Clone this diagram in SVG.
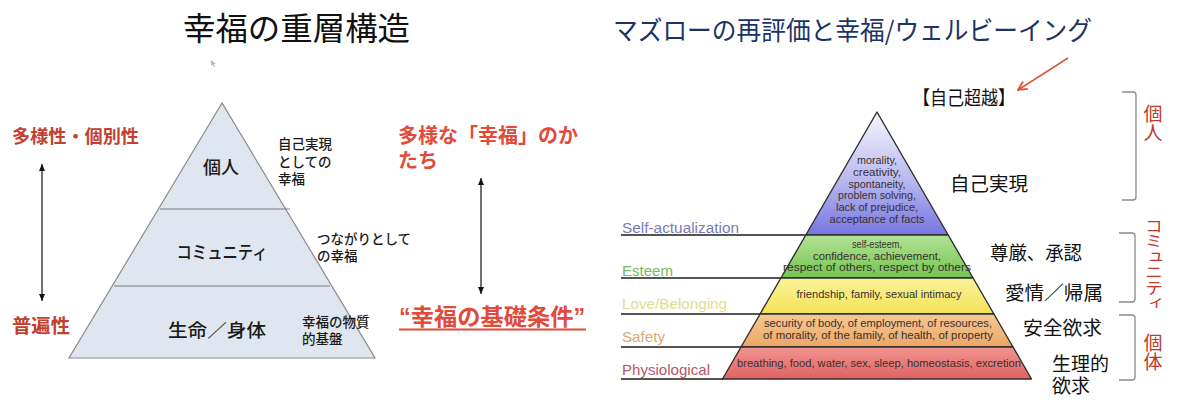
<svg xmlns="http://www.w3.org/2000/svg" width="1180" height="420" viewBox="0 0 1180 420">
<defs>
  <style>
    .jp { font-family: "Noto Sans CJK JP", sans-serif; }
    .ttl { font-family: "Noto Sans CJK JP", sans-serif; font-size: 32px; fill: #111; }
    .lbl { font-family: "Noto Sans CJK JP", sans-serif; font-size: 18px; font-weight: 500; fill: #1a1a1a; text-anchor: middle; }
    .ann { font-family: "Noto Sans CJK JP", sans-serif; font-size: 13.5px; font-weight: 500; fill: #1a1a1a; }
    .red { font-family: "Noto Sans CJK JP", sans-serif; font-weight: 700; fill: #c2402f; }
    .red2 { font-family: "Liberation Sans", "Noto Sans CJK JP", sans-serif; font-weight: 700; fill: #e24a3b; }
    .rl { font-family: "Noto Sans CJK JP", sans-serif; font-size: 19px; fill: #111; }
    .vt { font-family: "Noto Sans CJK JP", sans-serif; fill: #c0392b; writing-mode: vertical-rl; }
    .mz { font-family: "Liberation Sans", "DejaVu Sans", sans-serif; font-size: 10px; fill: #3a3030; text-anchor: middle; }
    .ml { font-family: "Liberation Sans", "DejaVu Sans", sans-serif; font-size: 15.5px; }
    .pyr { fill: #dfe6f0; stroke: #8a8a8a; stroke-width: 1.2; }
    .div { stroke: #7d7d7d; stroke-width: 1.1; }
    .arr { stroke: #111; stroke-width: 1.2; fill: none; marker-start: url(#ahs); marker-end: url(#ahe); }
    .hl { stroke: #555; stroke-width: 1.8; }
    .lay { stroke: #2e2e2e; stroke-width: 1.4; stroke-linejoin: round; }
    .brk { fill: none; stroke: #8a8a8a; stroke-width: 1.3; }
  </style>
  <marker id="ahe" viewBox="0 0 8 8" refX="7" refY="4" markerWidth="8" markerHeight="8" markerUnits="userSpaceOnUse" orient="auto">
    <path d="M0,1 L7,4 L0,7 Z" fill="#111"/>
  </marker>
  <marker id="ahs" viewBox="0 0 8 8" refX="1" refY="4" markerWidth="8" markerHeight="8" markerUnits="userSpaceOnUse" orient="auto">
    <path d="M8,1 L1,4 L8,7 Z" fill="#111"/>
  </marker>
  <marker id="ahr" viewBox="0 0 10 10" refX="9" refY="5" markerWidth="11" markerHeight="11" markerUnits="userSpaceOnUse" orient="auto">
    <path d="M1,1 L9,5 L1,9" fill="none" stroke="#e2503c" stroke-width="1.6"/>
  </marker>
  <linearGradient id="gTop" gradientUnits="userSpaceOnUse" x1="0" y1="112" x2="0" y2="235">
    <stop offset="0" stop-color="#f6f6fc"/>
    <stop offset="0.55" stop-color="#b9b9ef"/>
    <stop offset="1" stop-color="#7676e0"/>
  </linearGradient>
  <linearGradient id="gEst" gradientUnits="userSpaceOnUse" x1="0" y1="235" x2="0" y2="278">
    <stop offset="0" stop-color="#b2e396"/>
    <stop offset="1" stop-color="#74c451"/>
  </linearGradient>
  <linearGradient id="gLov" gradientUnits="userSpaceOnUse" x1="0" y1="278" x2="0" y2="314">
    <stop offset="0" stop-color="#faf29a"/>
    <stop offset="1" stop-color="#f3e356"/>
  </linearGradient>
  <linearGradient id="gSaf" gradientUnits="userSpaceOnUse" x1="0" y1="314" x2="0" y2="347">
    <stop offset="0" stop-color="#f5c996"/>
    <stop offset="1" stop-color="#eca664"/>
  </linearGradient>
  <linearGradient id="gPhy" gradientUnits="userSpaceOnUse" x1="0" y1="347" x2="0" y2="379">
    <stop offset="0" stop-color="#f09590"/>
    <stop offset="1" stop-color="#e06262"/>
  </linearGradient>
</defs>
<rect width="1180" height="420" fill="#ffffff"/>

<!-- Left diagram -->
<g id="left-title">
  <text class="ttl" x="183" y="40" textLength="227" lengthAdjust="spacingAndGlyphs">幸福の重層構造</text>
  <path d="M211,60 L211,66 L212.5,64.5 L214,67 L215,66.5 L213.8,64 L216,64 Z" fill="#bbb"/>
</g>

<g id="left-pyramid">
  <polygon class="pyr" points="222,103 69,358 375,358"/>
  <line class="div" x1="160" y1="209" x2="290" y2="209"/>
  <line class="div" x1="114" y1="286" x2="330" y2="286"/>
</g>

<g id="node-kojin">
  <text class="lbl" x="221" y="174">個人</text>
  <text class="ann" x="278" y="149">自己実現</text>
  <text class="ann" x="278" y="167">としての</text>
  <text class="ann" x="278" y="184">幸福</text>
</g>
<g id="node-community">
  <text class="lbl" x="222" y="259" font-size="15" textLength="91" lengthAdjust="spacingAndGlyphs">コミュニティ</text>
  <text class="ann" x="317" y="244" font-size="13">つながりとして</text>
  <text class="ann" x="317" y="261" font-size="13">の幸福</text>
</g>
<g id="node-seimei">
  <text class="lbl" x="217" y="337" textLength="98" lengthAdjust="spacingAndGlyphs">生命／身体</text>
  <text class="ann" x="302" y="327" font-size="14">幸福の物質</text>
  <text class="ann" x="302" y="344" font-size="14">的基盤</text>
</g>

<g id="left-axis-labels">
  <text class="red" x="12" y="143" font-size="18" textLength="127" lengthAdjust="spacingAndGlyphs">多様性・個別性</text>
  <text class="red" x="12" y="333" font-size="19" textLength="58" lengthAdjust="spacingAndGlyphs">普遍性</text>
</g>

<g id="right-axis-labels">
  <text class="red2" x="398" y="143" font-size="20" textLength="180" lengthAdjust="spacingAndGlyphs">多様な「幸福」のか</text>
  <text class="red2" x="398" y="168" font-size="20">たち</text>
  <text class="red2" x="399" y="325" font-size="23" textLength="186" lengthAdjust="spacingAndGlyphs">“幸福の基礎条件”</text>
  <line x1="399" y1="329.5" x2="586" y2="329.5" stroke="#e24a3b" stroke-width="2"/>
</g>

<g id="connectors">
  <line class="arr" x1="42" y1="164" x2="42" y2="301"/>
  <line class="arr" x1="481" y1="178" x2="481" y2="294"/>
  <line x1="1068" y1="58" x2="1018" y2="90" stroke="#e2503c" stroke-width="1.5" marker-end="url(#ahr)"/>
</g>

<!-- Right diagram -->
<g id="right-title">
  <text class="jp" x="613" y="40" font-size="26" fill="#1b3366" textLength="479" lengthAdjust="spacingAndGlyphs">マズローの再評価と幸福/ウェルビーイング</text>
</g>

<g id="maslow-lines">
  <line class="hl" x1="621" y1="235" x2="806" y2="235"/>
  <line class="hl" x1="621" y1="278" x2="781" y2="278"/>
  <line class="hl" x1="621" y1="314" x2="760" y2="314"/>
  <line class="hl" x1="621" y1="347" x2="741" y2="347"/>
  <line class="hl" x1="621" y1="379" x2="723" y2="379"/>
</g>

<g id="maslow-self">
  <polygon class="lay" fill="url(#gTop)" points="877,112 948.2,235 805.8,235"/>
  <text class="mz" x="877" y="164" textLength="40" lengthAdjust="spacingAndGlyphs">morality,</text>
  <text class="mz" x="877" y="176" textLength="48" lengthAdjust="spacingAndGlyphs">creativity,</text>
  <text class="mz" x="877" y="187.5" textLength="57" lengthAdjust="spacingAndGlyphs">spontaneity,</text>
  <text class="mz" x="877" y="199" textLength="78" lengthAdjust="spacingAndGlyphs">problem solving,</text>
  <text class="mz" x="877" y="211" textLength="82" lengthAdjust="spacingAndGlyphs">lack of prejudice,</text>
  <text class="mz" x="877" y="222.5" textLength="95" lengthAdjust="spacingAndGlyphs">acceptance of facts</text>
  <text class="ml" x="622" y="233" fill="#7a7ab8" textLength="117" lengthAdjust="spacingAndGlyphs">Self-actualization</text>
</g>
<g id="maslow-esteem">
  <polygon class="lay" fill="url(#gEst)" points="805.8,235 948.2,235 973.1,278 780.9,278"/>
  <text class="mz" x="877" y="248" textLength="50" lengthAdjust="spacingAndGlyphs">self-esteem,</text>
  <text class="mz" x="877" y="259.5" textLength="128" lengthAdjust="spacingAndGlyphs">confidence, achievement,</text>
  <text class="mz" x="877" y="271" textLength="188" lengthAdjust="spacingAndGlyphs">respect of others, respect by others</text>
  <text class="ml" x="622" y="276" fill="#78b862" textLength="51" lengthAdjust="spacingAndGlyphs">Esteem</text>
</g>
<g id="maslow-love">
  <polygon class="lay" fill="url(#gLov)" points="780.9,278 973.1,278 993.9,314 760.1,314"/>
  <text class="mz" x="879" y="298" textLength="165" lengthAdjust="spacingAndGlyphs">friendship, family, sexual intimacy</text>
  <text class="ml" x="622" y="309" fill="#e4da8e" textLength="105" lengthAdjust="spacingAndGlyphs">Love/Belonging</text>
</g>
<g id="maslow-safety">
  <polygon class="lay" fill="url(#gSaf)" points="760.1,314 993.9,314 1013,347 741,347"/>
  <text class="mz" x="878" y="327" textLength="228" lengthAdjust="spacingAndGlyphs">security of body, of employment, of resources,</text>
  <text class="mz" x="878" y="339" textLength="230" lengthAdjust="spacingAndGlyphs">of morality, of the family, of health, of property</text>
  <text class="ml" x="622" y="342" fill="#d6a87c" textLength="43" lengthAdjust="spacingAndGlyphs">Safety</text>
</g>
<g id="maslow-physio">
  <polygon class="lay" fill="url(#gPhy)" points="741,347 1013,347 1031.5,379 722.5,379"/>
  <text class="mz" x="879" y="367" textLength="284" lengthAdjust="spacingAndGlyphs">breathing, food, water, sex, sleep, homeostasis, excretion</text>
  <text class="ml" x="622" y="375" fill="#b45866" textLength="88" lengthAdjust="spacingAndGlyphs">Physiological</text>
</g>

<g id="jp-labels">
  <text class="rl" x="913" y="105" font-size="17" textLength="102" lengthAdjust="spacingAndGlyphs">【自己超越】</text>
  <text class="rl" x="950" y="191" textLength="78" lengthAdjust="spacingAndGlyphs">自己実現</text>
  <text class="rl" x="990" y="260" textLength="92" lengthAdjust="spacingAndGlyphs">尊厳、承認</text>
  <text class="rl" x="1005" y="300" textLength="98" lengthAdjust="spacingAndGlyphs">愛情／帰属</text>
  <text class="rl" x="1023" y="335" textLength="79" lengthAdjust="spacingAndGlyphs">安全欲求</text>
  <text class="rl" x="1052" y="371">生理的</text>
  <text class="rl" x="1052" y="393">欲求</text>
</g>

<g id="group-kojin">
  <path class="brk" d="M1122,92 L1133,92 Q1136,92 1136,95 L1136,197 Q1136,200 1133,200 L1122,200"/>
  <text class="vt" x="1153" y="104" font-size="19">個人</text>
</g>
<g id="group-community">
  <path class="brk" d="M1119,233 L1132,233 Q1135,233 1135,236 L1135,299 Q1135,302 1132,302 L1119,302"/>
  <text class="vt" x="1154" y="218" font-size="18" textLength="93" lengthAdjust="spacingAndGlyphs">コミュニティ</text>
</g>
<g id="group-kotai">
  <path class="brk" d="M1119,315 L1132,315 Q1135,315 1135,318 L1135,377 Q1135,380 1132,380 L1119,380"/>
  <text class="vt" x="1153" y="333" font-size="19">個体</text>
</g>
</svg>
